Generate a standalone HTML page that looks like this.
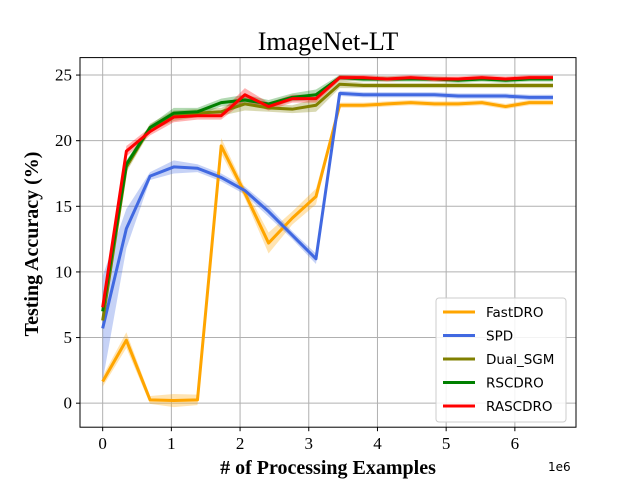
<!DOCTYPE html>
<html><head><meta charset="utf-8"><style>
body{margin:0;background:#fff}
svg{display:block}
</style></head><body>
<svg id="chart" width="640" height="480" xmlns="http://www.w3.org/2000/svg">
<rect width="640" height="480" fill="#fff"/>
<text x="328" y="50" text-anchor="middle" font-family="Liberation Serif, serif" font-size="26">ImageNet-LT</text>
<g id="grid"></g>
<g id="bands"></g>
<g id="lines"></g>
<g id="ticks"></g>
<rect x="80" y="57.6" width="496" height="369.6" fill="none" stroke="#000" stroke-width="1"/>
<text x="328" y="474" text-anchor="middle" font-family="Liberation Serif, serif" font-size="20" font-weight="bold"># of Processing Examples</text>
<text transform="translate(38,244) rotate(-90)" text-anchor="middle" font-family="Liberation Serif, serif" font-size="20" font-weight="bold">Testing Accuracy (%)</text>
<text x="548" y="471" font-family="DejaVu Sans, sans-serif" font-size="12">1e6</text>
<g id="legend">
<rect x="436" y="298" width="130" height="124" rx="3" fill="#fff" fill-opacity="0.85" stroke="#ccc"/>
</g>
</svg>
<script>
const xTicks=[0,1,2,3,4,5,6];
const yTicks=[0,5,10,15,20,25];
const seriesNames=["FastDRO","SPD","Dual_SGM","RSCDRO","RASCDRO"];
const colors=["#FFA500","#4169E1","#808000","#008000","#FF0000"];
const xValues=[0,0.345,0.69,1.035,1.38,1.725,2.07,2.415,2.76,3.105,3.45,3.795,4.14,4.485,4.83,5.175,5.52,5.865,6.21,6.555];
const fastdro=[1.65,4.8,0.25,0.2,0.25,19.6,16.0,12.2,14.1,15.75,22.7,22.7,22.8,22.9,22.8,22.8,22.9,22.6,22.9,22.9];
const spd=[5.7,13.3,17.3,18.0,17.9,17.2,16.2,14.6,12.8,11.0,23.6,23.5,23.5,23.5,23.5,23.4,23.4,23.4,23.3,23.3];
const dualsgm=[6.3,18.0,21.0,21.9,22.1,22.2,22.8,22.5,22.4,22.7,24.3,24.2,24.2,24.2,24.2,24.2,24.2,24.2,24.2,24.2];
const rscdro=[7.0,18.2,21.0,22.1,22.2,22.9,23.1,22.8,23.3,23.5,24.8,24.7,24.7,24.7,24.7,24.6,24.7,24.6,24.7,24.7];
const rascdro=[7.3,19.2,20.7,21.8,21.9,21.9,23.5,22.6,23.2,23.2,24.8,24.8,24.7,24.8,24.7,24.7,24.8,24.7,24.8,24.8];
const fastdroStd=[0.4,0.6,0.3,0.5,0.4,0.6,0.4,0.8,0.5,0.6,0.2,0.2,0.2,0.2,0.2,0.2,0.2,0.2,0.2,0.2];
const spdStd=[4,1.5,0.3,0.5,0.3,0.3,0.3,0.4,0.3,0.4,0.2,0.2,0.2,0.2,0.2,0.2,0.2,0.2,0.2,0.2];
const dualStd=[0.5,0.4,0.3,0.4,0.3,0.3,0.5,0.3,0.3,0.5,0.3,0.2,0.2,0.2,0.2,0.2,0.2,0.2,0.2,0.2];
const rscStd=[0.3,0.3,0.2,0.4,0.3,0.3,0.4,0.3,0.3,0.4,0.2,0.2,0.2,0.2,0.2,0.2,0.2,0.2,0.2,0.2];
const rascStd=[0.3,0.4,0.3,0.4,0.3,0.3,0.5,0.3,0.3,0.3,0.2,0.2,0.2,0.2,0.2,0.2,0.2,0.2,0.2,0.2];
const series=[fastdro,spd,dualsgm,rscdro,rascdro];
const stds=[fastdroStd,spdStd,dualStd,rscStd,rascStd];
const NS="http://www.w3.org/2000/svg";
const X0=80,X1=576,Y0=57.6,Y1=427.2,xmin=-0.33,xmax=6.89,ymin=-1.83,ymax=26.33;
function sx(v){return X0+(v-xmin)/(xmax-xmin)*(X1-X0);}
function sy(v){return Y1-(v-ymin)/(ymax-ymin)*(Y1-Y0);}
function mk(tag,attrs,parent){const e=document.createElementNS(NS,tag);for(const k in attrs)e.setAttribute(k,attrs[k]);parent.appendChild(e);return e;}
const grid=document.getElementById('grid'),ticks=document.getElementById('ticks');
xTicks.forEach(t=>{const x=sx(t);
 const g=mk('line',{x1:x,x2:x,y1:Y0,y2:Y1,stroke:'#b0b0b0','stroke-width':1},grid);
 
 
 mk('line',{x1:x,x2:x,y1:Y1,y2:Y1+4,stroke:'#000'},ticks);
 const tx=mk('text',{x:x,y:Y1+22,'text-anchor':'middle','font-family':'Liberation Serif, serif','font-size':17},ticks);
 tx.textContent=t;
 
 
});
yTicks.forEach(t=>{const y=sy(t);
 const g=mk('line',{x1:X0,x2:X1,y1:y,y2:y,stroke:'#b0b0b0','stroke-width':1},grid);
 
 
 mk('line',{x1:X0-4,x2:X0,y1:y,y2:y,stroke:'#000'},ticks);
 const tx=mk('text',{x:X0-8,y:y+5.5,'text-anchor':'end','font-family':'Liberation Serif, serif','font-size':17},ticks);
 tx.textContent=t;
 
 
});
const bands=document.getElementById('bands'),lines=document.getElementById('lines');
series.forEach((d,s)=>{
 const up=d.map((v,i)=>sx(xValues[i])+','+sy(v+stds[s][i]));
 const dn=d.map((v,i)=>sx(xValues[i])+','+sy(v-stds[s][i])).reverse();
 const b=mk('polygon',{points:up.concat(dn).join(' '),fill:colors[s],'fill-opacity':0.3,stroke:'none'},bands);
 
 
 const l=mk('polyline',{points:d.map((v,i)=>sx(xValues[i])+','+sy(v)).join(' '),fill:'none',stroke:colors[s],'stroke-width':3,'stroke-linejoin':'round'},lines);
 
 
});
const leg=document.getElementById('legend');
seriesNames.forEach((n,i)=>{const y=312+i*23.5;
 const g=mk('g',{},leg);
 
 
 mk('line',{x1:443,x2:475,y1:y,y2:y,stroke:colors[i],'stroke-width':3},g);
 const t=mk('text',{x:486,y:y+5,'font-family':'DejaVu Sans, sans-serif','font-size':13.5},g);
 t.textContent=n;
});
</script>
</body></html>
